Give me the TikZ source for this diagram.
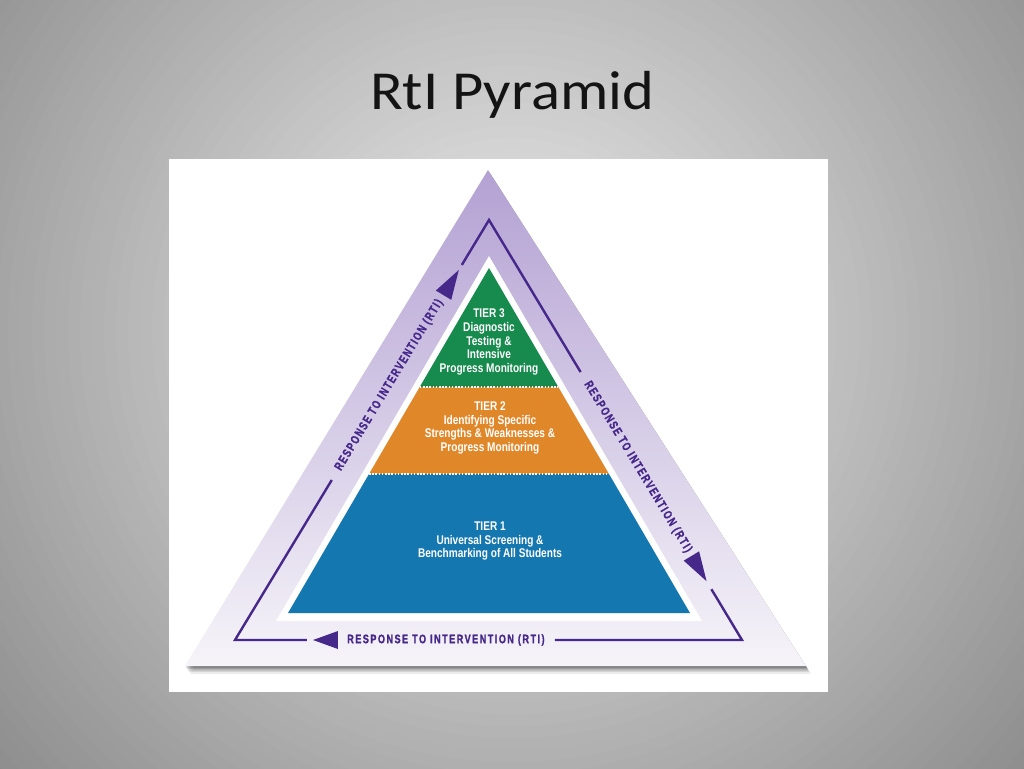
\documentclass[tikz,border=0pt]{standalone}
\usepackage{fontspec}
\setmainfont{Carlito}
\newfontfamily\tierfont[FakeStretch=0.8]{Liberation Sans}
\newfontfamily\rtifont[FakeStretch=0.74,LetterSpace=12,FakeBold=1.2]{Liberation Sans}
\usetikzlibrary{calc}
\definecolor{rtipurple}{HTML}{46288A}
\definecolor{bglight}{HTML}{EEEEEE}
\definecolor{bgdark}{HTML}{888888}
\definecolor{lavtop}{HTML}{B3A1D3}
\definecolor{lavmid}{HTML}{CBC0E0}
\definecolor{lavbot}{HTML}{F6F4F9}
\definecolor{tiergreen}{HTML}{178A4E}
\definecolor{tierorange}{HTML}{E0872A}
\definecolor{tierblue}{HTML}{1577AF}
\definecolor{titlecol}{HTML}{141414}
\tikzset{
  tiertext/.style={text=white, align=center, inner sep=0pt,
    font=\tierfont\bfseries\fontsize{12.6}{13.6}\selectfont},
  rtitext/.style={text=rtipurple, inner sep=0pt,
    font=\rtifont\bfseries\fontsize{12.3}{13}\selectfont},
  rtiline/.style={draw=rtipurple, line width=2.4pt},
  tierdots/.style={draw=white, line width=1.6pt, dash pattern=on 1.6pt off 1.6pt},
}
\begin{document}
\begin{tikzpicture}[x=1pt,y=-1pt]
\useasboundingbox (0,0) rectangle (1024,768);
% background: radial gradient made of concentric discs
\begin{scope}
\clip (0,0) rectangle (1024,768);
\fill[bgdark] (0,0) rectangle (1024,768);
\foreach \i in {60,59,...,1}{
  \pgfmathsetmacro{\pct}{100*\i/60}
  \fill[bgdark!\pct!bglight] (512,330) circle ({12*\i});
}
\end{scope}
% title
\node[anchor=base, inner sep=0pt, text=titlecol, xscale=1.1, font=\fontsize{55}{66}\selectfont] (title) at (512,109) {RtI Pyramid};
% white picture area
\fill[white] (169,159) rectangle (828,692);
% outer triangle with shadow
\coordinate (OA) at (488,170);
\coordinate (OL) at (185,666);
\coordinate (OR) at (806,666);
\foreach \d/\o in {8/0.07,6/0.10,4.5/0.13,3/0.16,1.5/0.2}{
  \fill[black, opacity=\o] ($(OA)+(0.6*\d,\d)$) -- ($(OL)+(0.6*\d,\d)$) -- ($(OR)+(0.6*\d,\d)$) -- cycle;
}
\shade[top color=lavtop, middle color=lavmid, bottom color=lavbot] (OA) -- (OL) -- (OR) -- cycle;
% white border round the pyramid
\fill[white] (489,256) -- (276,621) -- (702,621) -- cycle;
% tiers
\coordinate (PA) at (489,268);
\coordinate (G1) at (419.7,387);
\coordinate (G2) at (558.3,387);
\coordinate (O1) at (369,474);
\coordinate (O2) at (609,474);
\coordinate (B1) at (288,613);
\coordinate (B2) at (690,613);
\fill[tiergreen] (PA) -- (G1) -- (G2) -- cycle;
\fill[tierorange] (G1) -- (O1) -- (O2) -- (G2) -- cycle;
\fill[tierblue] (O1) -- (B1) -- (B2) -- (O2) -- cycle;
\draw[tierdots] (G1) -- (G2);
\draw[tierdots] (O1) -- (O2);
\node[tiertext] (t3) at (489,342) {TIER 3\\Diagnostic\\Testing \&\\Intensive\\Progress Monitoring};
\node[tiertext] (t2) at (490,428) {TIER 2\\Identifying Specific\\Strengths \& Weaknesses \&\\Progress Monitoring};
\node[tiertext] (t1) at (490,541) {TIER 1\\Universal Screening \&\\Benchmarking of All Students};
% response-to-intervention loop
\coordinate (A) at (489,220);
\coordinate (L) at (235,640);
\coordinate (R) at (742,640);
% left side
\coordinate (la) at ($(L)!0.381!(A)$);
\coordinate (lb) at ($(L)!0.821!(A)$);
\coordinate (lt) at ($(L)!0.881!(A)$);
\coordinate (lc) at ($(L)!0.893!(A)$);
% right side
\coordinate (ra) at ($(A)!0.362!(R)$);
\coordinate (rb) at ($(A)!0.800!(R)$);
\coordinate (rt) at ($(A)!0.860!(R)$);
\coordinate (rc) at ($(A)!0.879!(R)$);
% bottom
\coordinate (ba) at ($(R)!0.369!(L)$);
\coordinate (bb) at ($(R)!0.797!(L)$);
\coordinate (bt) at ($(R)!0.846!(L)$);
\coordinate (bc) at ($(R)!0.858!(L)$);
\draw[rtiline] (lc) -- (A) -- (ra);
\draw[rtiline] (rc) -- (R) -- (ba);
\draw[rtiline] (bc) -- (L) -- (la);
\fill[rtipurple] (lt) -- ($(lb)!9pt!90:(lt)$) -- ($(lb)!9pt!-90:(lt)$) -- cycle;
\fill[rtipurple] (rt) -- ($(rb)!9pt!90:(rt)$) -- ($(rb)!9pt!-90:(rt)$) -- cycle;
\fill[rtipurple] (bt) -- ($(bb)!9pt!90:(bt)$) -- ($(bb)!9pt!-90:(bt)$) -- cycle;
\node[rtitext, rotate=58.9] (rtil) at ($(L)!0.607!(A)$) {RESPONSE TO INTERVENTION (RTI)};
\node[rtitext, rotate=-58.9] (rtir) at ($(A)!0.588!(R)$) {RESPONSE TO INTERVENTION (RTI)};
\node[rtitext] (rtib) at ($(R)!0.584!(L)$) {RESPONSE TO INTERVENTION (RTI)};
\end{tikzpicture}
\end{document}
